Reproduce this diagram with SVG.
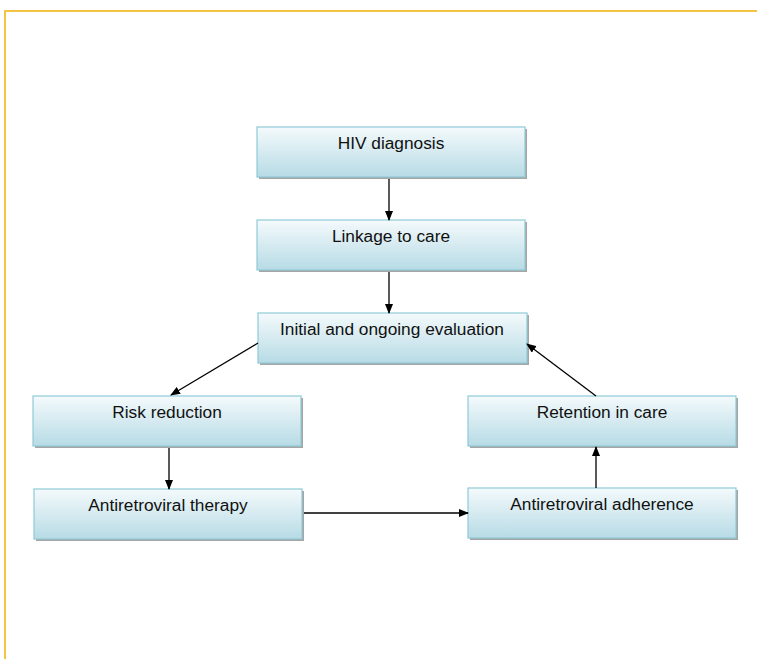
<svg xmlns="http://www.w3.org/2000/svg" width="757" height="659" viewBox="0 0 757 659">
<defs>
<linearGradient id="g" x1="0" y1="0" x2="0" y2="1">
<stop offset="0" stop-color="#f4fafc"/>
<stop offset="1" stop-color="#b7dbe5"/>
</linearGradient>
<marker id="ah" markerWidth="10" markerHeight="8" refX="9" refY="4" orient="auto" markerUnits="userSpaceOnUse">
<path d="M0,0 L10,4 L0,8 Z" fill="#000"/>
</marker>
<style>
.box{fill:url(#g);stroke:#8fcad8;stroke-width:1.2}
.sh{fill:#a5a5a5}
.t{font-family:"Liberation Sans",Arial,sans-serif;font-size:17.3px;fill:#111;text-anchor:middle}
.c{stroke:#000;stroke-width:1.3;fill:none;marker-end:url(#ah)}
</style>
</defs>
<rect width="757" height="659" fill="#fff"/>
<path d="M5,659 V11 H757" fill="none" stroke="#f6c443" stroke-width="2"/>
<g id="n1"><rect class="sh" x="259" y="129" width="268" height="50"/><rect class="box" x="257" y="127" width="268" height="50"/><text class="t" x="391" y="149">HIV diagnosis</text></g>
<g id="n2"><rect class="sh" x="259" y="222" width="268" height="50"/><rect class="box" x="257" y="220" width="268" height="50"/><text class="t" x="391" y="242">Linkage to care</text></g>
<g id="n3"><rect class="sh" x="260" y="315" width="269" height="50"/><rect class="box" x="258" y="313" width="269" height="50"/><text class="t" x="392" y="335">Initial and ongoing evaluation</text></g>
<g id="n4"><rect class="sh" x="35" y="398" width="268" height="50"/><rect class="box" x="33" y="396" width="268" height="50"/><text class="t" x="167" y="418">Risk reduction</text></g>
<g id="n5"><rect class="sh" x="36" y="491" width="268" height="50"/><rect class="box" x="34" y="489" width="268" height="50"/><text class="t" x="168" y="511">Antiretroviral therapy</text></g>
<g id="n6"><rect class="sh" x="470" y="398" width="268" height="50"/><rect class="box" x="468" y="396" width="268" height="50"/><text class="t" x="602" y="418">Retention in care</text></g>
<g id="n7"><rect class="sh" x="470" y="490" width="268" height="50"/><rect class="box" x="468" y="488" width="268" height="50"/><text class="t" x="602" y="510">Antiretroviral adherence</text></g>
<g id="connectors">
<line class="c" x1="389" y1="179" x2="389" y2="220"/>
<line class="c" x1="389" y1="272" x2="389" y2="313"/>
<line class="c" x1="258" y1="343" x2="171" y2="395"/>
<line class="c" x1="169" y1="448" x2="169" y2="489"/>
<line class="c" x1="304" y1="513" x2="468" y2="513"/>
<line class="c" x1="596" y1="488" x2="596" y2="447"/>
<line class="c" x1="596" y1="396" x2="527" y2="344"/>
</g>
</svg>
